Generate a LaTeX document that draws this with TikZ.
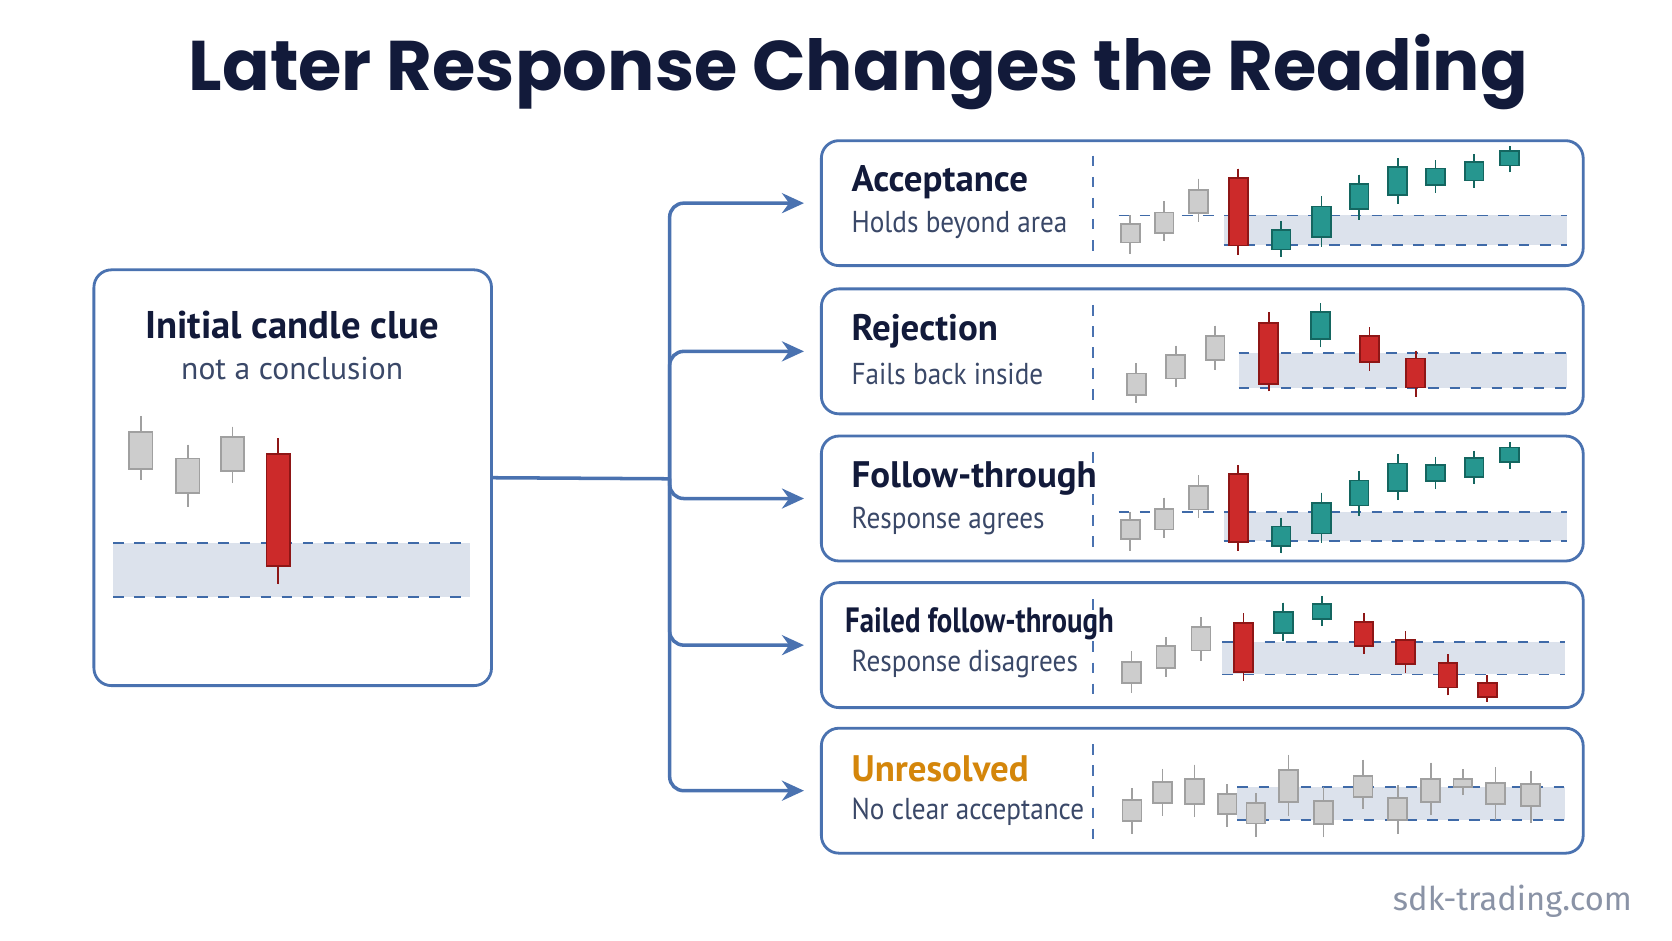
\documentclass[tikz,border=0pt]{standalone}
\usepackage{fontspec}
\setmainfont{PT Sans}
\newfontfamily\titlefont{Poppins}
\newfontfamily\condfont[FakeStretch=0.82]{PT Sans}
\newfontfamily\subfont[FakeStretch=0.9]{PT Sans}
\newfontfamily\markfont{Fira Sans}
\usetikzlibrary{arrows.meta, positioning}
\definecolor{navy}{HTML}{121A3A}
\definecolor{frame}{HTML}{4A72B0}
\definecolor{subtext}{HTML}{3A4868}
\definecolor{bandfill}{HTML}{DCE2EC}
\definecolor{zoneline}{HTML}{3F6AA8}
\definecolor{rfill}{HTML}{CC2A2A}
\definecolor{redge}{HTML}{8E1616}
\definecolor{tfill}{HTML}{26968F}
\definecolor{tedge}{HTML}{146660}
\definecolor{gfill}{HTML}{CDCDCD}
\definecolor{gedge}{HTML}{A0A0A0}
\definecolor{amber}{HTML}{D4860B}
\definecolor{mark}{HTML}{8A93A6}
\tikzset{
  panel/.style={
    rectangle,
    rounded corners=5pt,
    draw=frame,
    line width=0.8pt,
    fill=white,
    minimum width=7.62cm,
    minimum height=1.25cm
  },
  gry/.style={draw=gedge, fill=gfill, line width=0.5pt},
  red/.style={draw=redge, fill=rfill, line width=0.5pt},
  tea/.style={draw=tedge, fill=tfill, line width=0.5pt},
  zone/.style={draw=zoneline, dashed, line width=0.5pt},
  divider/.style={draw=frame, dashed, line width=0.5pt},
}
\tikzstyle{head} = [anchor=west, font=\bfseries\fontsize{10.5}{13}\selectfont, text=navy, inner sep=0]
\tikzstyle{sub} = [anchor=west, font=\subfont\fontsize{8.6}{10}\selectfont, text=subtext, inner sep=0]
\tikzstyle{link} = [draw=frame, line width=1pt, rounded corners=4pt]
\tikzstyle{arrow} = [link, -{Stealth[length=2.2mm, width=2mm]}, shorten >=1.6mm]
% candle: x, body top, body bottom, wick top, wick bottom, style
\newcommand{\candle}[6]{%
  \draw[#6] (#1,#4) -- (#1,#5);
  \filldraw[#6] (#1-\hw,#2) rectangle (#1+\hw,#3);}
\begin{document}
\begin{tikzpicture}[x=0.010663cm, y=-0.010663cm]
	\useasboundingbox[fill=white] (0,0) rectangle (1568,882);
	% title
	\node[font=\titlefont\bfseries\fontsize{20}{24}\selectfont, text=navy] (title) at (805,68) {Later Response Changes the Reading};
	
	% initial clue
	\node[panel, minimum width=3.977cm, minimum height=4.159cm] (clue) at (274.5,448) {};
	\node[font=\bfseries\fontsize{11}{13}\selectfont, text=navy] (cluehead) at (274,305) {Initial candle clue};
	\node[font=\fontsize{9}{11}\selectfont, text=subtext] (cluesub) at (274,346) {not a conclusion};
	\fill[bandfill] (106,509) rectangle (441,560);
	\draw[zone] (106,509) -- (441,509);
	\draw[zone] (106,560) -- (441,560);
	\def\hw{11}
	\candle{132}{405}{440}{390}{450}{gry}
	\candle{176}{430}{462}{417}{475}{gry}
	\candle{218}{410}{442}{400}{453}{gry}
	\candle{261}{426}{531}{411}{548}{red}
	
	% outcome panels
	\node[panel] (accept) at (1127.5,190.5) {};
	\node[panel] (reject) at (1127.5,329.5) {};
	\node[panel] (follow) at (1127.5,467.5) {};
	\node[panel] (failed) at (1127.5,605) {};
	\node[panel] (unres) at (1127.5,741.5) {};
	\foreach \t in {131,271,409,547,683}
		\draw[divider] (1025,\t+15) -- (1025,\t+105);
	
	\node[head] (accepthead) at (798,171) {Acceptance};
	\node[sub] (acceptsub) at (798,211) {Holds beyond area};
	\node[head] (rejecthead) at (798,311) {Rejection};
	\node[sub] (rejectsub) at (798,351) {Fails back inside};
	\node[head] (followhead) at (798,449) {Follow-through};
	\node[sub] (followsub) at (798,489) {Response agrees};
	\node[head, font=\condfont\bfseries\fontsize{10}{12}\selectfont] (failedhead) at (792,585) {Failed follow-through};
	\node[sub] (failedsub) at (798,623) {Response disagrees};
	\node[head, text=amber] (unreshead) at (798,721) {Unresolved};
	\node[sub] (unressub) at (798,761) {No clear acceptance};
	
	% acceptance and follow-through charts
	\def\hw{22}
	\foreach \dy in {112.22,390.22} {
	\begin{scope}[shift={(938.57,\dy)}, xscale=0.402, yscale=0.313]
		\fill[bandfill] (520,287) rectangle (1320,375);
		\draw[zone] (275,287) -- (1320,287);
		\draw[zone] (520,375) -- (1320,375);
		\candle{302}{312}{368}{287}{403}{gry}
		\candle{381}{278}{340}{244}{365}{gry}
		\candle{461}{210}{280}{177}{306}{gry}
		\candle{554}{174}{377}{147}{404}{red}
		\candle{654}{331}{389}{305}{411}{tea}
		\candle{748}{260}{352}{229}{380}{tea}
		\candle{836}{193}{268}{165}{300}{tea}
		\candle{926}{142}{225}{115}{252}{tea}
		\candle{1014}{146}{195}{122}{219}{tea}
		\candle{1104}{126}{182}{104}{204}{tea}
		\candle{1187}{94}{137}{79}{158}{tea}
	\end{scope}
	}
	
	% rejection chart
	\begin{scope}[shift={(938.57,112.94)}, xscale=0.402, yscale=0.313]
		\fill[bandfill] (555,697) rectangle (1320,802);
		\draw[zone] (555,697) -- (1320,697);
		\draw[zone] (555,802) -- (1320,802);
		\candle{316}{758}{822}{728}{848}{gry}
		\candle{408}{703}{773}{675}{800}{gry}
		\candle{500}{645}{717}{615}{748}{gry}
		\candle{625}{607}{790}{575}{812}{red}
		\candle{746}{575}{655}{547}{680}{tea}
		\candle{860}{645}{724}{620}{750}{red}
		\candle{968}{713}{800}{690}{828}{red}
	\end{scope}
	
	% failed follow-through chart
	\begin{scope}[shift={(937.36,525.1)}, xscale=0.402, yscale=0.313]
		\fill[bandfill] (520,245) rectangle (1320,343);
		\draw[zone] (520,245) -- (1320,245);
		\draw[zone] (520,343) -- (1320,343);
		\candle{308}{305}{368}{273}{398}{gry}
		\candle{388}{258}{323}{232}{350}{gry}
		\candle{470}{201}{271}{172}{302}{gry}
		\candle{569}{190}{335}{160}{363}{red}
		\candle{662}{155}{220}{128}{243}{tea}
		\candle{752}{133}{177}{108}{198}{tea}
		\candle{850}{186}{257}{160}{282}{red}
		\candle{947}{240}{312}{214}{339}{red}
		\candle{1046}{308}{382}{283}{406}{red}
		\candle{1138}{368}{411}{346}{426}{red}
	\end{scope}
	
	% unresolved chart
	\begin{scope}[shift={(937.36,524.9)}, xscale=0.402, yscale=0.313]
		\fill[bandfill] (555,680) rectangle (1320,780);
		\draw[zone] (555,680) -- (1320,680);
		\draw[zone] (555,780) -- (1320,780);
		\candle{309}{720}{782}{685}{822}{gry}
		\candle{380}{665}{730}{627}{767}{gry}
		\candle{455}{657}{731}{614}{771}{gry}
		\candle{531}{702}{762}{673}{800}{gry}
		\candle{598}{728}{790}{700}{830}{gry}
		\candle{674}{630}{727}{585}{768}{gry}
		\candle{756}{723}{792}{680}{832}{gry}
		\candle{848}{648}{712}{600}{746}{gry}
		\candle{929}{715}{780}{675}{822}{gry}
		\candle{1006}{657}{725}{608}{765}{gry}
		\candle{1081}{657}{680}{628}{706}{gry}
		\candle{1157}{668}{733}{622}{780}{gry}
		\candle{1239}{672}{738}{632}{788}{gry}
	\end{scope}
	
	% arrows
	\coordinate (hub) at (628,449);
	\draw[link] (clue.east) -- (hub);
	\draw[arrow] (hub) |- (accept.west);
	\draw[arrow] (hub) |- (reject.west);
	\draw[arrow] (hub) |- (follow.west);
	\draw[arrow] (hub) |- (failed.west);
	\draw[arrow] (hub) |- (unres.west);
	
	\node[anchor=east, font=\markfont\fontsize{9.3}{11}\selectfont, text=mark] (site) at (1542,845) {sdk-trading.com};
\end{tikzpicture}
\end{document}
